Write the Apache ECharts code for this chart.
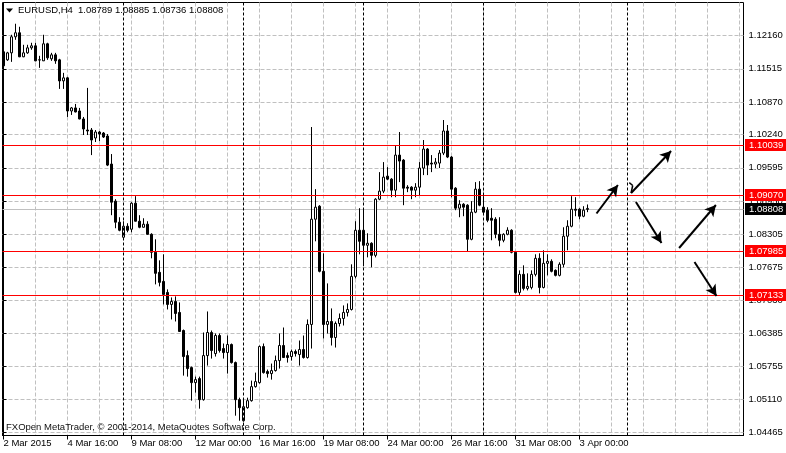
<!DOCTYPE html>
<html>
<head>
<meta charset="utf-8">
<script src="https://cdn.jsdelivr.net/npm/echarts@6/dist/echarts.min.js"></script>
<style>
html,body{margin:0;padding:0;background:#fff;}
#chart{width:786px;height:453px;}
</style>
</head>
<body>
<div id="chart"></div>
<script>
const FONT = "'Liberation Sans', Arial, sans-serif";

// EURUSD H4 bars, 2 Mar 2015 00:00 .. 3 Apr 2015 08:00 (bar index = position)
const open = [
1.11844,1.11688,1.11824,1.12135,1.12213,1.11747,1.11824,1.11921,1.11960,1.11688,
1.11669,1.11999,1.11708,1.11785,1.11688,1.11280,1.11339,1.10697,1.10756,1.10697,
1.10542,1.10328,1.10328,1.10173,1.10289,1.10270,1.10211,1.09668,1.08949,1.08541,
1.08249,1.08463,1.08405,1.08910,1.08560,1.08443,1.08502,1.08307,1.07958,1.07569,
1.07394,1.07180,1.06947,1.07006,1.06792,1.06442,1.05956,1.05723,1.05432,1.05510,
1.05101,1.05956,1.06403,1.05995,1.06345,1.06092,1.06015,1.06170,1.05820,1.05101,
1.04693,1.04946,1.05082,1.05354,1.05432,1.06131,1.05646,1.05607,1.05665,1.05859,
1.06151,1.05956,1.05937,1.06034,1.05976,1.06073,1.05918,1.06559,1.08599,1.08851,
1.07589,1.06559,1.06617,1.06306,1.06578,1.06675,1.06792,1.06850,1.07491,1.08385,
1.08385,1.08094,1.08133,1.07899,1.08987,1.09143,1.09434,1.09376,1.09162,1.09842,
1.09745,1.09220,1.09220,1.09162,1.09220,1.09590,1.09959,1.09687,1.09668,1.09687,
1.09881,1.10309,1.09804,1.09201,1.08813,1.08890,1.08871,1.08210,1.08735,1.09182,
1.08832,1.08774,1.08618,1.08599,1.08307,1.08191,1.08307,1.08385,1.07958,1.07180,
1.07530,1.07258,1.07277,1.07530,1.07841,1.07277,1.07744,1.07783,1.07608,1.07511,
1.07725,1.08269,1.08463,1.08793,1.08793,1.08657,1.08789
];
const high = [
1.11883,1.11844,1.12174,1.12388,1.12329,1.11980,1.11980,1.12019,1.12019,1.11766,
1.12174,1.12019,1.11824,1.11824,1.11708,1.11436,1.11358,1.10775,1.10833,1.10756,
1.10581,1.11144,1.10367,1.10328,1.10309,1.10289,1.10250,1.09862,1.08987,1.08638,
1.08560,1.08521,1.08929,1.09046,1.08677,1.08618,1.08560,1.08327,1.08210,1.07802,
1.07919,1.07239,1.07083,1.07103,1.06986,1.06461,1.06054,1.05743,1.05548,1.05548,
1.06403,1.06811,1.06442,1.06384,1.06384,1.06190,1.06345,1.06190,1.05840,1.05140,
1.05121,1.05140,1.05471,1.05626,1.06151,1.06190,1.05685,1.05801,1.05956,1.06384,
1.06500,1.06015,1.06073,1.06073,1.06248,1.06345,1.06656,1.10386,1.09182,1.08871,
1.07938,1.07355,1.06870,1.06617,1.06772,1.06928,1.06967,1.07725,1.08560,1.08813,
1.08813,1.08327,1.08152,1.09007,1.09512,1.09706,1.09609,1.09395,1.10017,1.10289,
1.09765,1.09259,1.09240,1.09298,1.09706,1.10134,1.09978,1.09842,1.09784,1.09940,
1.10522,1.10425,1.09823,1.09220,1.08968,1.08910,1.08890,1.08949,1.09318,1.09337,
1.09046,1.08832,1.08813,1.08638,1.08638,1.08327,1.08443,1.08405,1.07977,1.07608,
1.07705,1.07550,1.07608,1.07919,1.07938,1.07997,1.07919,1.07822,1.07627,1.07764,
1.08443,1.08579,1.09046,1.09026,1.08813,1.08851,1.08885
];
const low = [
1.11552,1.11669,1.11649,1.12077,1.11740,1.11740,1.11805,1.11883,1.11660,1.11533,
1.11665,1.11688,1.11669,1.11611,1.11125,1.11125,1.10581,1.10620,1.10670,1.10535,
1.10231,1.10231,1.09842,1.10095,1.10114,1.10173,1.09629,1.08677,1.08424,1.08366,
1.08245,1.08346,1.08346,1.08555,1.08424,1.08440,1.08300,1.07841,1.07336,1.07297,
1.06947,1.06850,1.06656,1.06617,1.06418,1.05568,1.05548,1.05082,1.05237,1.04927,
1.05082,1.05762,1.05898,1.05937,1.06015,1.05898,1.05607,1.05801,1.04791,1.04693,
1.04674,1.04927,1.05063,1.05335,1.05413,1.05607,1.05529,1.05490,1.05646,1.05704,
1.05910,1.05820,1.05859,1.05937,1.05762,1.05898,1.05898,1.06092,1.08171,1.07569,
1.06287,1.06384,1.06151,1.06112,1.06520,1.06539,1.06714,1.06830,1.07452,1.07919,
1.07686,1.07860,1.07667,1.07860,1.08968,1.09104,1.09357,1.09026,1.09026,1.09318,
1.08871,1.09124,1.08987,1.09026,1.09065,1.09454,1.09454,1.09512,1.09590,1.09590,
1.09842,1.09784,1.09026,1.08774,1.08638,1.08657,1.07977,1.08191,1.08716,1.08851,
1.08696,1.08541,1.08191,1.08230,1.08074,1.08152,1.08288,1.07938,1.07161,1.07122,
1.07219,1.07219,1.07239,1.07491,1.07161,1.07258,1.07511,1.07569,1.07491,1.07491,
1.07667,1.07997,1.08443,1.08657,1.08599,1.08638,1.08736
];
const close = [
1.11572,1.11824,1.12135,1.12213,1.11747,1.11824,1.11921,1.11960,1.11669,1.11685,
1.11999,1.11727,1.11785,1.11669,1.11280,1.11339,1.10697,1.10756,1.10678,1.10542,
1.10348,1.10309,1.10134,1.10289,1.10250,1.10192,1.09648,1.08929,1.08541,1.08385,
1.08463,1.08385,1.08910,1.08560,1.08443,1.08502,1.08307,1.07958,1.07550,1.07375,
1.07142,1.06947,1.07006,1.06772,1.06423,1.05937,1.05704,1.05432,1.05490,1.05101,
1.05956,1.06403,1.06054,1.06345,1.06054,1.06015,1.06170,1.05820,1.05101,1.04946,
1.04965,1.05082,1.05354,1.05452,1.06131,1.05626,1.05607,1.05665,1.05859,1.06151,
1.05918,1.05918,1.06034,1.05995,1.06073,1.05918,1.06559,1.08599,1.08832,1.07589,
1.06559,1.06617,1.06306,1.06578,1.06675,1.06792,1.06850,1.07491,1.08385,1.08171,
1.08094,1.08133,1.07899,1.08987,1.09143,1.09415,1.09376,1.09162,1.09842,1.09726,
1.09201,1.09201,1.09162,1.09220,1.09590,1.09959,1.09648,1.09668,1.09706,1.09881,
1.10309,1.09804,1.09182,1.08813,1.08890,1.08832,1.08210,1.08735,1.09182,1.08871,
1.08735,1.08579,1.08579,1.08307,1.08191,1.08307,1.08385,1.07958,1.07180,1.07530,
1.07258,1.07297,1.07530,1.07841,1.07277,1.07744,1.07783,1.07589,1.07511,1.07725,
1.08269,1.08463,1.08793,1.08774,1.08657,1.08774,1.08808
];

// Axis ticks
const xTickBars = [0,16,32,48,64,80,96,112,128,144];
const xTickLabels = ['2 Mar 2015','4 Mar 16:00','9 Mar 08:00','12 Mar 00:00','16 Mar 16:00',
                     '19 Mar 08:00','24 Mar 00:00','26 Mar 16:00','31 Mar 08:00','3 Apr 00:00'];
const xGridBars = [8,16,24,32,40,48,56,64,72,80,88,96,104,112,120,128,136,144,152,160,168,176,184];
const periodSeparators = [30,60,90,120,156];
const yTickValues = [1.04465,1.05110,1.05755,1.06385,1.07030,1.07675,1.08305,
                     1.08950,1.09595,1.10240,1.10870,1.11515,1.12160];

// Drawn objects
const levelLines = [1.10039,1.09070,1.07985,1.07133];
const bidPrice = 1.08808;
// [barFrom, priceFrom, barTo, priceTo]
const arrows = [
  [148.25,1.08710,153.6,1.09262],
  [156.9,1.09107,166.9,1.09921],
  [158.1,1.08933,164.5,1.08138],
  [168.9,1.08041,178.1,1.08875],
  [172.75,1.07770,178.25,1.07111]
];
const hookPoints = [[156.45,1.09307],[157.3,1.09253],[156.9,1.09107]];

const candleData = open.map((o, i) => [i, o, close[i], low[i], high[i]]);

const chart = echarts.init(document.getElementById('chart'), null, {renderer: 'canvas'});

const hookSegs = [];
for (let i = 0; i < hookPoints.length - 1; i++) {
  hookSegs.push([{coord: hookPoints[i]}, {coord: hookPoints[i + 1]}]);
}

// horizontal price line with a price tag on the right, drawn through the axes
function priceLineRenderer(lineColor, tagColor) {
  return function (params, api) {
    const v = api.value(1);
    const cs = params.coordSys;
    const py = api.coord([0, v])[1];
    const y = Math.ceil(py) + 0.5;
    return {
      type: 'group',
      children: [
        {type: 'line', shape: {x1: cs.x, y1: y, x2: cs.x + cs.width, y2: y},
         style: {stroke: lineColor, lineWidth: 1}},
        {type: 'text', x: cs.x + cs.width + 1.5, y: y - 0.5,
         style: {text: v.toFixed(5), fill: '#fff', backgroundColor: tagColor,
                 padding: [1, 6, 1, 4], font: '9.5px ' + FONT,
                 align: 'left', verticalAlign: 'middle', lineHeight: 10}}
      ]
    };
  };
}

const option = {
  animation: false,
  backgroundColor: '#fff',
  grid: {left: 2.5, top: 2.5, right: 42.5, bottom: 17.5, show: true,
         borderColor: '#000', borderWidth: 1, backgroundColor: '#fff'},
  xAxis: [
    {
      type: 'value', min: -0.25, max: 185, position: 'bottom',
      axisLine: {show: true, lineStyle: {color: '#000', width: 1}},
      axisTick: {show: true, length: 4, customValues: xTickBars, lineStyle: {color: '#000'}},
      axisLabel: {
        customValues: xTickBars,
        formatter: v => { const k = xTickBars.indexOf(Math.round(v)); return k >= 0 ? xTickLabels[k] : ''; },
        align: 'left', margin: 3, fontSize: 9.5, color: '#000', fontFamily: FONT
      },
      splitLine: {show: false}
    },
    {
      type: 'value', min: -0.25, max: 185, position: 'bottom',
      axisLine: {show: false},
      axisTick: {show: false, customValues: xGridBars},
      axisLabel: {show: false},
      splitLine: {show: true, lineStyle: {color: '#c0c0c0', width: 1, type: [4, 2]}}
    }
  ],
  yAxis: {
    type: 'value', position: 'right', min: 1.0440685, max: 1.1279964,
    axisLine: {show: true, lineStyle: {color: '#000'}},
    axisTick: {show: true, length: 3, customValues: yTickValues, lineStyle: {color: '#000'}},
    axisLabel: {customValues: yTickValues, formatter: v => v.toFixed(5), margin: 5,
                fontSize: 9.5, color: '#000', fontFamily: FONT},
    splitLine: {show: true, lineStyle: {color: '#c0c0c0', width: 1, type: [4, 2]}}
  },
  graphic: [
    {type: 'polygon', shape: {points: [[6, 8.5], [13, 8.5], [9.5, 12.5]]}, style: {fill: '#000'}, z: 100},
    {type: 'text', left: 18, top: 5, z: 100,
     style: {text: 'EURUSD,H4', font: '9.5px ' + FONT, fill: '#000'}},
    {type: 'text', left: 78, top: 5, z: 100,
     style: {text: '1.08789 1.08885 1.08736 1.08808', font: '9.5px ' + FONT, fill: '#000'}},
    {type: 'text', left: 6, top: 422, z: 100,
     style: {text: 'FXOpen MetaTrader, \u00a9 2001-2014, MetaQuotes Software Corp.', font: '9.5px ' + FONT, fill: '#101010'}}
  ],
  series: [
    {
      name: 'separators', type: 'line', data: [], z: 1, silent: true,
      markLine: {
        symbol: 'none', silent: true, animation: false, precision: 5,
        label: {show: false},
        lineStyle: {color: '#000', width: 1, type: [3, 2]},
        emphasis: {disabled: true},
        data: periodSeparators.map(v => ({xAxis: v}))
      }
    },
    {
      name: 'bid', type: 'custom', z: 1, silent: true, clip: false,
      encode: {x: 0, y: 1},
      data: [[0, bidPrice]],
      renderItem: priceLineRenderer('#c0c0c0', '#000')
    },
    {
      name: 'EURUSD,H4', type: 'candlestick', xAxisIndex: 0, z: 2,
      barWidth: 2, silent: true,
      itemStyle: {color: '#fff', color0: '#000', borderColor: '#000', borderColor0: '#000',
                  borderColorDoji: '#000', borderWidth: 1},
      data: candleData
    },
    {
      name: 'levels', type: 'custom', z: 3, silent: true, clip: false,
      encode: {x: 0, y: 1},
      data: levelLines.map(v => [0, v]),
      renderItem: priceLineRenderer('#ff0000', '#ff0000')
    },
    {
      name: 'arrows', type: 'line', data: [], z: 5, silent: true,
      markLine: {
        symbol: ['none', 'arrow'], symbolSize: [9, 11], silent: true, animation: false, precision: 5,
        lineStyle: {color: '#000', width: 2, type: 'solid'},
        emphasis: {disabled: true},
        label: {show: false},
        data: arrows.map(a => [{coord: [a[0], a[1]]}, {coord: [a[2], a[3]]}])
      }
    },
    {
      name: 'hook', type: 'line', data: [], z: 5, silent: true,
      markLine: {
        symbol: 'none', silent: true, animation: false, precision: 5,
        lineStyle: {color: '#000', width: 1.5, type: 'solid'},
        emphasis: {disabled: true},
        label: {show: false},
        data: hookSegs
      }
    }
  ]
};
chart.setOption(option);
</script>
</body>
</html>
